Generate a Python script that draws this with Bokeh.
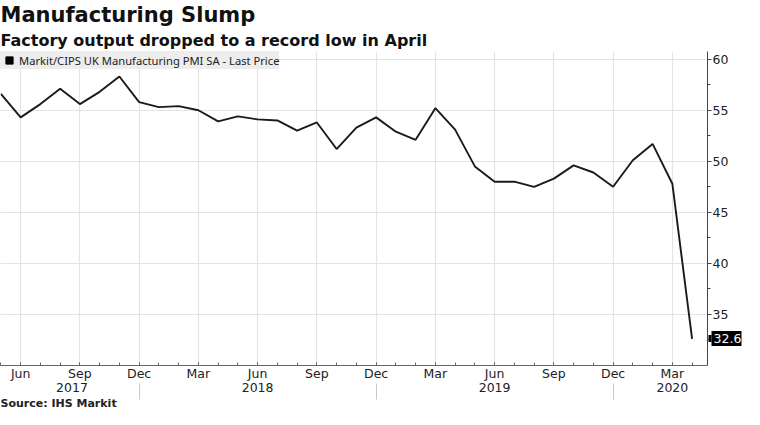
from bokeh.plotting import figure
from bokeh.models import (Range1d, LinearAxis, FixedTicker, Title, Legend, LegendItem)
from bokeh.embed import file_html
from bokeh.resources import INLINE

# ---------------- data ----------------
months = ["2017-05", "2017-06", "2017-07", "2017-08", "2017-09", "2017-10", "2017-11", "2017-12",
          "2018-01", "2018-02", "2018-03", "2018-04", "2018-05", "2018-06", "2018-07", "2018-08",
          "2018-09", "2018-10", "2018-11", "2018-12",
          "2019-01", "2019-02", "2019-03", "2019-04", "2019-05", "2019-06", "2019-07", "2019-08",
          "2019-09", "2019-10", "2019-11", "2019-12",
          "2020-01", "2020-02", "2020-03", "2020-04"]
pmi = [56.6, 54.3, 55.6, 57.1, 55.6, 56.8, 58.3, 55.8,
       55.3, 55.4, 55.0, 53.9, 54.4, 54.1, 54.0, 53.0,
       53.8, 51.2, 53.3, 54.3,
       52.9, 52.1, 55.2, 53.1, 49.5, 48.0, 48.0, 47.5,
       48.3, 49.6, 48.9, 47.5,
       50.1, 51.7, 47.8, 32.6]
quarter_months = ["2017-06", "2017-09", "2017-12", "2018-03", "2018-06", "2018-09", "2018-12",
                  "2019-03", "2019-06", "2019-09", "2019-12", "2020-03"]
quarter_labels = ["Jun", "Sep", "Dec", "Mar", "Jun", "Sep", "Dec", "Mar", "Jun", "Sep", "Dec", "Mar"]
year_labels = ["2017", "2018", "2019", "2020"]
y_ticks = [35, 40, 45, 50, 55, 60]
series_name = "Markit/CIPS UK Manufacturing PMI SA - Last Price"
last_value = pmi[-1]

# ---------------- derived positions ----------------
xs = list(range(len(months)))
quarter_pos = [months.index(m) for m in quarter_months]
year_sep_pos = [months.index(y + "-12") for y in year_labels[:-1]]
x_start, x_end = -0.02, len(months) - 1 + 0.78
year_label_pos = [3.6, 13, 25, 34]

FONT = "DejaVu Sans"
LFONT = "Noto Sans"
TICK_SIZE = "12.5px"

p = figure(width=744, height=409, x_range=Range1d(x_start, x_end), y_range=Range1d(30, 60.75),
           output_backend="svg", toolbar_location=None, y_axis_location="right",
           min_border_left=0, min_border_right=34, min_border_top=0, min_border_bottom=0,
           background_fill_color="white", border_fill_color="white", outline_line_color=None)

# main line
p.line(xs, pmi, line_color="#1a1a1a", line_width=1.9)

# grid
p.xgrid.ticker = FixedTicker(ticks=quarter_pos)
p.ygrid.ticker = FixedTicker(ticks=y_ticks)
p.xgrid.grid_line_color = "#e4e4e4"
p.ygrid.grid_line_color = "#e4e4e4"
p.xgrid.grid_line_width = 1.2
p.ygrid.grid_line_width = 1.2

# right axis
ya = p.yaxis[0]
ya.ticker = FixedTicker(ticks=y_ticks, minor_ticks=[t - 2.5 for t in y_ticks])
ya.axis_line_color = "#444444"
ya.major_tick_line_color = "#444444"
ya.minor_tick_line_color = "#444444"
ya.major_tick_in = 0
ya.major_tick_out = 4
ya.minor_tick_in = 0
ya.minor_tick_out = 3
ya.major_label_standoff = 1
ya.major_label_text_font = FONT
ya.major_label_text_font_size = TICK_SIZE
ya.major_label_text_color = "#222222"

# last-value callout: an extra right axis stacked after the main one; its thick
# major tick (reaching back over the label column) is the black box, its minor
# tick the small pointer, its label the white value
W = 25  # approx. width of the main right-axis panel
cal = LinearAxis(ticker=FixedTicker(ticks=[last_value], minor_ticks=[last_value]))
cal.major_label_overrides = {last_value: f"{last_value}"}
cal.axis_line_color = None
cal.major_tick_line_color = "black"
cal.major_tick_line_width = 15
cal.major_tick_in = W - 5
cal.major_tick_out = 35 - W
cal.minor_tick_line_color = "black"
cal.minor_tick_line_width = 7
cal.minor_tick_in = W - 2
cal.minor_tick_out = 5 - W
cal.major_label_standoff = 7 - 35
cal.major_label_text_font = FONT
cal.major_label_text_font_size = TICK_SIZE
cal.major_label_text_color = "white"
p.add_layout(cal, "right")

# month axis
xa = p.xaxis[0]
xa.ticker = FixedTicker(ticks=quarter_pos, minor_ticks=xs)
xa.major_label_overrides = {q: lab for q, lab in zip(quarter_pos, quarter_labels)}
xa.axis_line_color = "#666666"
xa.major_tick_line_color = "#666666"
xa.minor_tick_line_color = "#666666"
xa.major_tick_in = 3
xa.major_tick_out = 0
xa.minor_tick_in = 3
xa.minor_tick_out = 0
xa.major_label_standoff = 0
xa.major_label_text_font = FONT
xa.major_label_text_font_size = TICK_SIZE
xa.major_label_text_color = "#222222"

# year axis
yr = LinearAxis(ticker=FixedTicker(ticks=year_label_pos, minor_ticks=year_sep_pos))
yr.major_label_overrides = {q: lab for q, lab in zip(year_label_pos, year_labels)}
yr.axis_line_color = None
yr.major_tick_line_color = None
yr.minor_tick_line_color = "#c8c8c8"
yr.minor_tick_in = 0
yr.minor_tick_out = 16
yr.major_label_standoff = -17
yr.major_label_text_font = FONT
yr.major_label_text_font_size = TICK_SIZE
yr.major_label_text_color = "#222222"
p.add_layout(yr, "below")

# source
p.add_layout(Title(text="Source: IHS Markit", align="left", text_font=FONT,
                   text_font_size="11px", text_font_style="bold", text_color="#222222",
                   text_line_height=1.0, standoff=0, offset=0), "below")

# titles (last added is on top)
p.add_layout(Title(text="Factory output dropped to a record low in April", align="left",
                   text_font=FONT, text_font_size="16px", text_font_style="bold",
                   text_color="#111111", standoff=4, offset=0), "above")
p.add_layout(Title(text="Manufacturing Slump", align="left", text_font=FONT,
                   text_font_size="21px", text_font_style="bold", text_color="#111111",
                   standoff=0, offset=0), "above")

# legend (square key, drawn only in the legend)
key = p.scatter(xs, pmi, marker="square", color="black", size=0)
leg = Legend(items=[LegendItem(label=series_name, renderers=[key])], location="top_left",
             margin=0, padding=2, spacing=0, background_fill_color="#ededed",
             background_fill_alpha=1, border_line_color=None, label_text_font=LFONT,
             label_text_font_size="11.2px", label_text_color="#222222",
             glyph_width=18, glyph_height=18, label_standoff=1, label_height=18)
p.add_layout(leg)

open("out.html", "w").write(file_html(p, INLINE))
